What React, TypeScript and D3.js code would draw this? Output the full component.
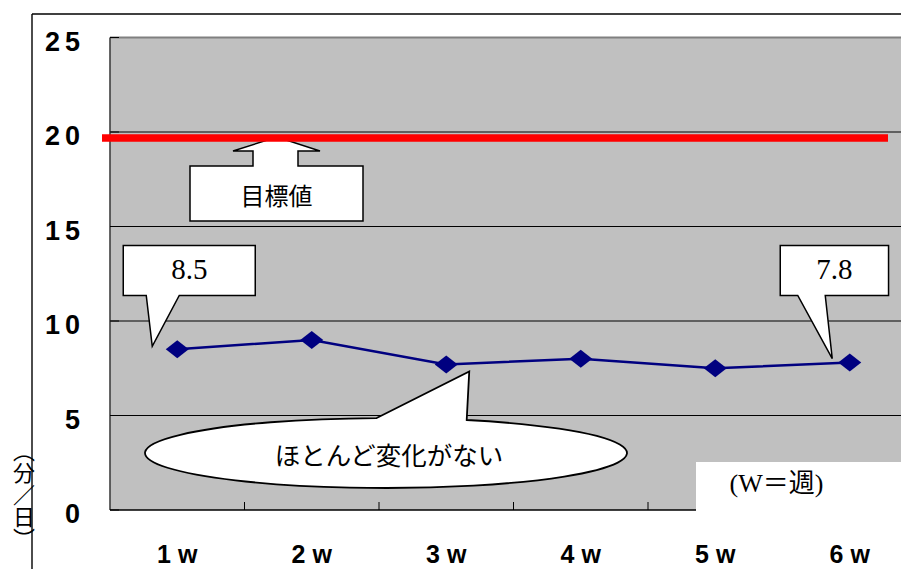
import React from "react";
import * as d3 from "d3";

// Weekly average minutes per day
const weeks = ["1w", "2w", "3w", "4w", "5w", "6w"];
const minutesPerDay = [8.5, 9.0, 7.7, 8.0, 7.5, 7.8];
const yTicks = [0, 5, 10, 15, 20, 25];
const TARGET = 20;

const W = 901;
const H = 569;
const PLOT = { left: 110, top: 37.5, right: 917, bottom: 510 };

const JP = "'Noto Sans CJK JP', 'Noto Sans', sans-serif";
const SERIF = "'Liberation Serif', 'Noto Sans CJK JP', serif";
const SANS_BOLD = "'Liberation Sans', Arial, sans-serif";

export default function App() {
  const x = d3.scaleBand<string>().domain(weeks).range([PLOT.left, PLOT.right]);
  const y = d3.scaleLinear().domain([0, 25]).range([PLOT.bottom, PLOT.top]);
  const cx = (w: string) => (x(w) ?? 0) + x.bandwidth() / 2;

  const line = d3
    .line<number>()
    .x((_, i) => cx(weeks[i]))
    .y((d) => y(d));

  const diamond = (px: number, py: number) =>
    `M${px - 11.5},${py} L${px},${py - 9} L${px + 11.5},${py} L${px},${py + 9} Z`;

  // rectangular callout with a pointer toward a data point
  const boxCallout = (i: number, dl: number, dr: number, bl: number, br: number, tipDx: number, tipDy: number) => {
    const px = cx(weeks[i]);
    const py = y(minutesPerDay[i]);
    const top = y(14.0);
    const bottom = y(11.35);
    const left = px + dl;
    const right = px + dr;
    const tipX = px + tipDx;
    const tipY = py + tipDy;
    return {
      d: `M${left},${top} H${right} V${bottom} H${px + br} L${tipX},${tipY} L${px + bl},${bottom} H${left} Z`,
      tx: (left + right) / 2,
      ty: top + 34,
    };
  };

  const first = boxCallout(0, -54, 78, -31, 2, -25, -3);
  const last = boxCallout(5, -69.5, 38.8, -52, -24.5, -17.5, -4);

  // target arrow callout
  const ty = y(TARGET) + 6;
  const arrowTipX = 277;
  const boxTop = ty + 28;
  const boxBottom = boxTop + 55;
  const arrowPath = `M190,${boxTop} H${arrowTipX - 24} V${ty + 13} H${arrowTipX - 44} L${arrowTipX},${ty - 1} L${arrowTipX + 43},${ty + 13} H${arrowTipX + 21} V${boxTop} H363 V${boxBottom} H190 Z`;

  // oval callout pointing at week 3
  const ex = 386, ey = 453, erx = 241, ery = 35;
  const onTop = (xx: number) => ey - ery * Math.sqrt(1 - ((xx - ex) / erx) ** 2);
  const a1 = 376.7, a2 = 466.7;
  const ovalTipX = cx(weeks[2]) + 23;
  const ovalTipY = y(minutesPerDay[2]) + 7;
  const ovalPath = `M${a1},${onTop(a1)} L${ovalTipX},${ovalTipY} L${a2},${onTop(a2)} A${erx},${ery} 0 1 1 ${a1},${onTop(a1)} Z`;

  return (
    <svg width={W} height={H} style={{ position: "absolute", left: 0, top: 0, background: "#fff" }}>
      {/* outer frame */}
      <line x1={32} y1={14} x2={W} y2={14} stroke="#000" strokeWidth={1.6} />
      <line x1={32} y1={14} x2={32} y2={H} stroke="#000" strokeWidth={1.4} />

      {/* plot area */}
      <rect x={PLOT.left} y={PLOT.top} width={PLOT.right - PLOT.left} height={PLOT.bottom - PLOT.top} fill="#c0c0c0" />
      {yTicks.filter((t) => t > 0 && t < 25).map((t) => (
        <line key={t} x1={PLOT.left} x2={PLOT.right} y1={y(t)} y2={y(t)} stroke="#000" strokeWidth={1} />
      ))}
      <line x1={PLOT.left} x2={PLOT.right} y1={y(25)} y2={y(25)} stroke="#808080" strokeWidth={2.2} />
      <line x1={PLOT.left} x2={PLOT.left} y1={PLOT.top} y2={PLOT.bottom} stroke="#404040" strokeWidth={1.6} />
      <line x1={PLOT.left} x2={PLOT.right} y1={PLOT.bottom} y2={PLOT.bottom} stroke="#000" strokeWidth={1.6} />
      {yTicks.map((t) => (
        <line key={t} x1={PLOT.left} x2={PLOT.left + 9} y1={y(t)} y2={y(t)} stroke="#000" strokeWidth={1} />
      ))}
      {weeks.slice(1).map((w) => (
        <line key={w} x1={x(w)} x2={x(w)} y1={PLOT.bottom} y2={PLOT.bottom - 8} stroke="#000" strokeWidth={1} />
      ))}

      {/* y tick labels */}
      {yTicks.map((t) => (
        <text key={t} x={80 + 5} y={y(t) + 13} textAnchor="end" fontFamily={SANS_BOLD} fontWeight="bold" fontSize={27} letterSpacing={5}>
          {String(t)}
        </text>
      ))}

      {/* y axis title */}
      <text x={24} y={440} fontFamily={JP} fontSize={22} style={{ writingMode: "vertical-rl" }}>
        （分／日）
      </text>

      {/* target callout */}
      <path d={arrowPath} fill="#fff" stroke="#000" strokeWidth={1.5} />
      <text x={276.5} y={boxTop + 28} textAnchor="middle" dominantBaseline="central" fontFamily={JP} fontSize={24}>
        目標値
      </text>

      {/* target line */}
      <line x1={102} x2={888} y1={ty} y2={ty} stroke="#ff0000" strokeWidth={7.5} />

      {/* data series */}
      <path d={line(minutesPerDay) ?? ""} fill="none" stroke="#000080" strokeWidth={2.5} />
      {minutesPerDay.map((v, i) => (
        <path key={i} d={diamond(cx(weeks[i]), y(v))} fill="#000080" />
      ))}

      {/* value callouts */}
      <path d={first.d} fill="#fff" stroke="#000" strokeWidth={1.5} />
      <text x={first.tx} y={first.ty} textAnchor="middle" fontFamily={SERIF} fontSize={29}>
        {minutesPerDay[0].toFixed(1)}
      </text>
      <path d={last.d} fill="#fff" stroke="#000" strokeWidth={1.5} />
      <text x={last.tx} y={last.ty} textAnchor="middle" fontFamily={SERIF} fontSize={29}>
        {minutesPerDay[5].toFixed(1)}
      </text>

      {/* oval callout */}
      <path d={ovalPath} fill="#fff" stroke="#000" strokeWidth={1.8} />
      <text x={389} y={453} textAnchor="middle" dominantBaseline="central" fontFamily={JP} fontSize={25.5}>
        ほとんど変化がない
      </text>

      {/* unit note */}
      <rect x={696} y={462} width={W - 696} height={H - 462} fill="#fff" />
      <text x={776.5} y={492} textAnchor="middle" fontFamily={SERIF} fontSize={26}>
        (W＝週)
      </text>

      {/* x tick labels */}
      {weeks.map((w) => (
        <text key={w} x={cx(w)} y={563} textAnchor="middle" fontFamily={SANS_BOLD} fontWeight="bold" fontSize={25}>
          <tspan>{w.slice(0, -1)}</tspan>
          <tspan dx={7}>{w.slice(-1)}</tspan>
        </text>
      ))}
    </svg>
  );
}
